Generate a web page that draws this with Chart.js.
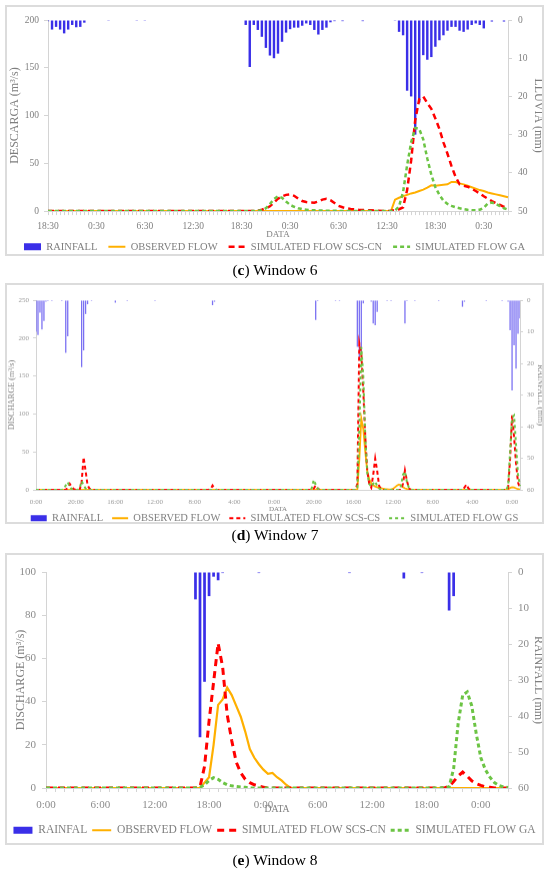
<!DOCTYPE html>
<html>
<head>
<meta charset="utf-8">
<script src="https://cdn.jsdelivr.net/npm/chart.js@4.4.1/dist/chart.umd.min.js"></script>
<style>
  body { margin: 0; background: #fff; width: 550px; height: 871px; position: relative; overflow: hidden; }
  .frame { position: absolute; left: 5px; width: 539px; border: 2px solid #dcdcdc; box-sizing: border-box; }
  .box { position: absolute; left: 7px; width: 535px; }
  .cap { position: absolute; left: 0; width: 550px; text-align: center; font-family: 'Liberation Serif', serif; font-size: 15.5px; line-height: 18px; color: #000; }
</style>
</head>
<body>
<div class="frame" style="top:5px;height:251px"></div>
<div class="box" style="top:7px;height:255px"><canvas id="c1"></canvas></div>
<div class="cap" style="top:261px">(<b>c</b>) Window 6</div>

<div class="frame" style="top:283px;height:241px"></div>
<div class="box" style="top:285px;height:247.5px"><canvas id="c2"></canvas></div>
<div class="cap" style="top:526px">(<b>d</b>) Window 7</div>

<div class="frame" style="top:553px;height:292px"></div>
<div class="box" style="top:555px;height:291px"><canvas id="c3"></canvas></div>
<div class="cap" style="top:851px">(<b>e</b>) Window 8</div>

<script>
// ---- Window 6 (30 min steps from 18:30) ----
var ticks1 = ['18:30', '0:30', '6:30', '12:30', '18:30', '0:30', '6:30', '12:30', '18:30', '0:30'];
var names1 = ['RAINFALL', 'OBSERVED FLOW', 'SIMULATED FLOW SCS-CN', 'SIMULATED FLOW GA'];
var rain1 = [
  0.3, 2.5, 1.8, 2.5, 3.5, 2.5, 1.3, 1.9, 1.8, 0.7, 0, 0,
  0, 0, 0, 0.2, 0, 0, 0, 0, 0, 0, 0.2, 0,
  0.2, 0, 0, 0, 0, 0, 0, 0, 0, 0, 0, 0,
  0, 0, 0, 0, 0, 0, 0, 0, 0, 0, 0, 0,
  0, 1.3, 12.3, 1.3, 2.6, 4.4, 7.3, 9.3, 10, 8.8, 5.7, 3.3,
  2.4, 2, 2, 1.5, 0.9, 1.3, 2.6, 3.8, 2.6, 2, 0.6, 0.3,
  0, 0.3, 0, 0, 0, 0, 0.3, 0, 0, 0, 0, 0,
  0, 0, 0.2, 3.1, 4, 18.5, 20, 30, 21.6, 9.2, 10.4, 9.7,
  7, 5.3, 4, 2.8, 1.8, 1.8, 2.8, 3.1, 2.5, 1.3, 0.9, 1.3,
  2.2, 0, 0.4, 0, 0, 0.4, 0
];
var obs1 = [
  0, 0, 0, 0, 0, 0, 0, 0, 0, 0, 0, 0,
  0, 0, 0, 0, 0, 0, 0, 0, 0, 0, 0, 0,
  0, 0, 0, 0, 0, 0, 0, 0, 0, 0, 0, 0,
  0, 0, 0, 0, 0, 0, 0, 0, 0, 0, 0, 0,
  0, 0, 0, 0, 0, 0, 0, 0, 0, 0, 0, 0,
  0, 0, 0, 0, 0, 0, 0, 0, 0, 0, 0, 0,
  0, 0, 0, 0, 0, 0, 0, 0, 0, 0, 0, 0,
  0, 0, 12, 14, 15.5, 17, 18.5, 19.5, 21, 22.5, 24.5, 27,
  26.5, 27, 27.5, 28, 30.5, 30.5, 29, 28, 26.5, 25, 23.5, 22,
  21, 19.5, 18.5, 17.5, 16.5, 15.5, 14.5
];
var scs1 = [
  0, 0, 0, 0, 0, 0, 0, 0, 0, 0, 0, 0,
  0, 0, 0, 0, 0, 0, 0, 0, 0, 0, 0, 0,
  0, 0, 0, 0, 0, 0, 0, 0, 0, 0, 0, 0,
  0, 0, 0, 0, 0, 0, 0, 0, 0, 0, 0, 0,
  0, 0, 0, 0, 0.3, 1.5, 3, 5, 9, 13, 15.5, 17,
  17.5, 16, 13, 10.5, 9.5, 9, 8.8, 10, 12, 12.8, 11.5, 8.5,
  5.5, 4, 3, 2.3, 1.8, 1.4, 1.1, 1, 0.8, 0.5, 0.3, 0,
  0, 0.3, 1, 2, 4, 22, 53, 95, 117, 120, 113, 107,
  97, 86, 72, 60, 47, 36, 28, 26.5, 25.5, 23.5, 21, 18.5,
  15.5, 13, 10.5, 8.5, 6.5, 4.5, 3
];
var ga1 = [
  0, 0, 0, 0, 0, 0, 0, 0, 0, 0, 0, 0,
  0, 0, 0, 0, 0, 0, 0, 0, 0, 0, 0, 0,
  0, 0, 0, 0, 0, 0, 0, 0, 0, 0, 0, 0,
  0, 0, 0, 0, 0, 0, 0, 0, 0, 0, 0, 0,
  0, 0, 0, 0, 0.3, 1, 3, 7.5, 12.5, 15.5, 14, 10,
  6.5, 4.5, 3, 2, 1.5, 1, 0.8, 0.6, 0.5, 0.4, 0.3, 0.3,
  0.2, 0, 0, 0, 0, 0, 0, 0, 0, 0, 0, 0,
  0, 0, 0.5, 5, 20, 48, 72, 87, 86, 75, 55, 38,
  25, 17, 11, 7.5, 5.5, 4, 3, 2, 1.3, 1, 1, 1.5,
  3.5, 8, 9, 7.5, 5.3, 3, 1.5
];

// ---- Window 7 (hourly from 0:00) ----
var ticks2 = ['0:00', '20:00', '16:00', '12:00', '8:00', '4:00', '0:00', '20:00', '16:00', '12:00', '8:00', '4:00', '0:00'];
var names2 = ['RAINFALL', 'OBSERVED FLOW', 'SIMULATED FLOW SCS-CS', 'SIMULATED FLOW GS'];
var rain2 = [
  10, 11, 4, 9.3, 6.6, 0.5, 0.3, 0, 0.3, 0, 0, 0, 0, 0.3, 0, 16.7, 11.4, 0, 0, 0,
  0, 0, 0, 21.2, 15.9, 4.4, 1.3, 0, 0.3, 0, 0, 0, 0, 0, 0, 0, 0, 0, 0, 0,
  0.8, 0, 0, 0, 0, 0, 0.3, 0, 0, 0, 0, 0, 0, 0, 0, 0, 0, 0, 0, 0,
  0.3, 0, 0, 0, 0, 0, 0, 0, 0, 0, 0, 0, 0, 0, 0, 0, 0, 0, 0, 0,
  0, 0, 0, 0, 0, 0, 0, 0, 0, 1.6, 0.5, 0, 0, 0, 0, 0, 0, 0, 0, 0,
  0, 0, 0, 0, 0, 0, 0, 0, 0, 0, 0, 0, 0, 0, 0, 0, 0, 0, 0, 0,
  0, 0, 0, 0, 0, 0, 0, 0, 0, 0, 0, 0, 0, 0, 0, 0, 0, 0, 0, 0,
  0, 6.3, 0.3, 0, 0, 0, 0, 0, 0, 0, 0, 0.3, 0, 0.3, 0, 0, 0, 0, 0, 0,
  0, 0, 14.8, 18.4, 16.9, 1, 0, 0, 0, 0.5, 7.4, 7.9, 3.7, 0, 0, 0, 0, 0.3, 0, 0.3,
  0, 0, 0, 0, 0, 0, 7.4, 0.3, 0, 0, 0, 0.3, 0, 0, 0, 0, 0, 0, 0, 0,
  0, 0, 0, 0.3, 0, 0, 0, 0, 0, 0, 0, 0, 0, 0, 0, 2.1, 0.5, 0, 0, 0,
  0, 0, 0, 0, 0, 0, 0, 0.3, 0, 0, 0, 0, 0, 0, 0, 0.3, 0, 0, 0.5, 9.5,
  28.6, 14.3, 21.7, 10.6, 5.8
];
var obs2 = [
  0, 0, 0, 0, 0, 0, 0, 0, 0, 0, 0, 0, 0, 0, 0, 0, 0, 0, 0, 0,
  0, 0, 0, 0, 0, 0, 0, 0, 0, 0, 0, 0, 0, 0, 0, 0, 0, 0, 0, 0,
  0, 0, 0, 0, 0, 0, 0, 0, 0, 0, 0, 0, 0, 0, 0, 0, 0, 0, 0, 0,
  0, 0, 0, 0, 0, 0, 0, 0, 0, 0, 0, 0, 0, 0, 0, 0, 0, 0, 0, 0,
  0, 0, 0, 0, 0, 0, 0, 0, 0, 0, 0, 0, 0, 0, 0, 0, 0, 0, 0, 0,
  0, 0, 0, 0, 0, 0, 0, 0, 0, 0, 0, 0, 0, 0, 0, 0, 0, 0, 0, 0,
  0, 0, 0, 0, 0, 0, 0, 0, 0, 0, 0, 0, 0, 0, 0, 0, 0, 0, 0, 0,
  0, 0, 0, 0, 0, 0, 0, 0, 0, 0, 0, 0, 0, 0, 0, 0, 0, 0, 0, 0,
  0, 0, 0.5, 40, 94, 80, 50, 25, 14, 9, 6, 4.5, 3.5, 2.5, 2, 1.5, 1, 0.8, 0.6, 0.5,
  1.5, 3.5, 5.5, 7, 6, 3.5, 2, 1.2, 0.8, 0.5, 0, 0, 0, 0, 0, 0, 0, 0, 0, 0,
  0, 0, 0, 0, 0, 0, 0, 0, 0, 0, 0, 0, 0, 0, 0, 0, 0, 0, 0, 0,
  0, 0, 0, 0, 0, 0, 0, 0, 0, 0, 0, 0, 0, 0, 0, 0, 0, 0, 0.3, 2.5,
  3.5, 3, 2, 1, 0.5
];
var scs2 = [
  0, 0, 0, 0, 0, 0, 0, 0, 0, 0, 0, 0, 0, 0, 0, 0, 3, 8, 4, 1,
  0, 0, 0, 10, 43, 25, 6, 1.5, 0, 0, 0, 0, 0, 0, 0, 0, 0, 0, 0, 0,
  0, 0, 0, 0, 0, 0, 0, 0, 0, 0, 0, 0, 0, 0, 0, 0, 0, 0, 0, 0,
  0, 0, 0, 0, 0, 0, 0, 0, 0, 0, 0, 0, 0, 0, 0, 0, 0, 0, 0, 0,
  0, 0, 0, 0, 0, 0, 0, 0, 1, 5.7, 2, 0, 0, 0, 0, 0, 0, 0, 0, 0,
  0, 0, 0, 0, 0, 0, 0, 0, 0, 0, 0, 0, 0, 0, 0, 0, 0, 0, 0, 0,
  0, 0, 0, 0, 0, 0, 0, 0, 0, 0, 0, 0, 0, 0, 0, 0, 0, 0, 0, 0,
  1.5, 5.7, 2, 0, 0, 0, 0, 0, 0, 0, 0, 0, 0, 0, 0, 0, 0, 0, 0, 0,
  0, 0, 8, 193, 180, 130, 70, 25, 8, 3, 20, 41, 25, 5, 1, 0, 0, 0, 0, 0,
  0, 0, 0, 0, 0, 8, 25.5, 12, 2, 0, 0, 0, 0, 0, 0, 0, 0, 0, 0, 0,
  0, 0, 0, 0, 0, 0, 0, 0, 0, 0, 0, 0, 0, 0, 0, 0, 3, 7, 2, 0,
  0, 0, 0, 0, 0, 0, 0, 0, 0, 0, 0, 0, 0, 0, 0, 0, 0, 0, 2, 40,
  98, 70, 35, 10, 2
];
var ga2 = [
  0, 0, 0, 0, 0, 0, 0, 0, 0, 0, 0, 0, 0, 0, 1, 6, 10, 4, 1, 0,
  0, 0, 2, 11.5, 6, 2, 0, 0, 0, 0, 0, 0, 0, 0, 0, 0, 0, 0, 0, 0,
  0, 0, 0, 0, 0, 0, 0, 0, 0, 0, 0, 0, 0, 0, 0, 0, 0, 0, 0, 0,
  0, 0, 0, 0, 0, 0, 0, 0, 0, 0, 0, 0, 0, 0, 0, 0, 0, 0, 0, 0,
  0, 0, 0, 0, 0, 0, 0, 0, 0, 0, 0, 0, 0, 0, 0, 0, 0, 0, 0, 0,
  0, 0, 0, 0, 0, 0, 0, 0, 0, 0, 0, 0, 0, 0, 0, 0, 0, 0, 0, 0,
  0, 0, 0, 0, 0, 0, 0, 0, 0, 0, 0, 0, 0, 0, 0, 0, 0, 0, 0, 2,
  13, 7, 2, 0, 0, 0, 0, 0, 0, 0, 0, 0, 0, 0, 0, 0, 0, 0, 0, 0,
  0, 0, 3, 80, 188, 150, 70, 22, 8, 4, 8, 11, 5, 2, 0, 0, 0, 0, 0, 0,
  0, 0, 0, 0, 5, 20, 24, 10, 3, 0, 0, 0, 0, 0, 0, 0, 0, 0, 0, 0,
  0, 0, 0, 0, 0, 0, 0, 0, 0, 0, 0, 0, 0, 0, 0, 0, 0, 0, 0, 0,
  0, 0, 0, 0, 0, 0, 0, 0, 0, 0, 0, 0, 0, 0, 0, 0, 0, 0, 5, 50,
  95, 98, 60, 20, 5
];

// ---- Window 8 (30 min steps from 0:00) ----
var ticks3 = ['0:00', '6:00', '12:00', '18:00', '0:00', '6:00', '12:00', '18:00', '0:00'];
var names3 = ['RAINFAL', 'OBSERVED FLOW', 'SIMULATED FLOW SCS-CN', 'SIMULATED FLOW GA'];
var rain3 = [
  0, 0, 0, 0, 0, 0, 0, 0, 0, 0, 0, 0,
  0, 0, 0, 0, 0, 0, 0, 0, 0, 0, 0, 0,
  0, 0, 0, 0, 0, 0, 0, 0, 0, 7.6, 45.9, 30.5,
  6.7, 1.3, 2.3, 0.3, 0, 0, 0, 0, 0, 0, 0, 0.3,
  0, 0, 0, 0, 0, 0, 0, 0, 0, 0, 0, 0,
  0, 0, 0, 0, 0, 0, 0, 0.3, 0, 0, 0, 0,
  0, 0, 0, 0, 0, 0, 0, 1.8, 0, 0, 0, 0.3,
  0, 0, 0, 0, 0, 10.7, 6.7, 0, 0, 0, 0, 0,
  0, 0, 0, 0, 0, 0, 0
];
var obs3 = [
  0, 0, 0, 0, 0, 0, 0, 0, 0, 0, 0, 0,
  0, 0, 0, 0, 0, 0, 0, 0, 0, 0, 0, 0,
  0, 0, 0, 0, 0, 0, 0, 0, 0, 0, 0, 2.5,
  5, 20, 38.5, 41, 46.5, 43, 38, 33, 26, 18, 14, 11,
  8.5, 6.6, 7, 5, 3.5, 1.5, 0, 0, 0, 0, 0, 0,
  0, 0, 0, 0, 0, 0, 0, 0, 0, 0, 0, 0,
  0, 0, 0, 0, 0, 0, 0, 0, 0, 0, 0, 0,
  0, 0, 0, 0, 0, 0, 0, 0, 0, 0, 0, 0,
  0, 0, 0, 0, 0, 0, 0
];
var scs3 = [
  0, 0, 0, 0, 0, 0, 0, 0, 0, 0, 0, 0,
  0, 0, 0, 0, 0, 0, 0, 0, 0, 0, 0, 0,
  0, 0, 0, 0, 0, 0, 0, 0, 0, 0, 0.5, 10,
  31, 49, 67, 56, 34, 22, 12, 7, 4, 2.5, 1.5, 0.8,
  0.4, 0, 0, 0, 0, 0, 0, 0, 0, 0, 0, 0,
  0, 0, 0, 0, 0, 0, 0, 0, 0, 0, 0, 0,
  0, 0, 0, 0, 0, 0, 0, 0, 0, 0, 0, 0,
  0, 0, 0, 0, 0, 0.8, 3, 5.5, 7.4, 5.5, 3.3, 2,
  1.2, 0.6, 0.3, 0, 0, 0, 0
];
var ga3 = [
  0, 0, 0, 0, 0, 0, 0, 0, 0, 0, 0, 0,
  0, 0, 0, 0, 0, 0, 0, 0, 0, 0, 0, 0,
  0, 0, 0, 0, 0, 0, 0, 0, 0, 0, 0.3, 1.5,
  3.5, 4.8, 4, 2.5, 1.5, 1, 0.7, 0.5, 0.3, 0, 0, 0,
  0, 0, 0, 0, 0, 0, 0, 0, 0, 0, 0, 0,
  0, 0, 0, 0, 0, 0, 0, 0, 0, 0, 0, 0,
  0, 0, 0, 0, 0, 0, 0, 0, 0, 0, 0, 0,
  0, 0, 0, 0, 0.3, 0.5, 9, 30, 43, 44.5, 38, 25,
  14, 8.5, 5, 2.5, 1.2, 0.5, 0.2
];

var SERIF = "'Liberation Serif', 'Times New Roman', serif";
var BLUE = '#3a2fe8';
var ORANGE = '#ffb000';
var RED = '#ff0000';
var GREEN = '#6cc444';
var AXIS = '#d4d4d4';

// time strings for the category axis
function timeCats(startMin, stepMin, n) {
  var out = [];
  for (var i = 0; i < n; i++) {
    var m = (startMin + i * stepMin) % 1440;
    out.push(Math.floor(m / 60) + ':' + String(m % 60).padStart(2, '0'));
  }
  return out;
}

function makeChart(id, o) {
  var ctx = document.getElementById(id).getContext('2d');
  return new Chart(ctx, {
    type: 'bar',
    data: {
      labels: o.labels,
      datasets: [{
        label: o.names[0], data: o.rain, yAxisID: 'y1',
        backgroundColor: o.barColor || BLUE, borderWidth: 0,
        categoryPercentage: 1, barPercentage: o.barPct, order: 4
      }, {
        type: 'line', label: o.names[1], data: o.obs, yAxisID: 'y',
        borderColor: ORANGE, backgroundColor: ORANGE, borderWidth: o.lw[0],
        pointRadius: 0, tension: 0, order: 3
      }, {
        type: 'line', label: o.names[2], data: o.scs, yAxisID: 'y',
        borderColor: RED, backgroundColor: RED, borderWidth: o.lw[1], borderDash: o.dashR,
        pointRadius: 0, tension: 0, order: 2
      }, {
        type: 'line', label: o.names[3], data: o.ga, yAxisID: 'y',
        borderColor: GREEN, backgroundColor: GREEN, borderWidth: o.lw[2], borderDash: o.dashG,
        pointRadius: 0, tension: 0, order: 1
      }]
    },
    options: {
      responsive: true,
      maintainAspectRatio: false,
      animation: false,
      layout: { padding: { top: o.top, left: 0, right: 0, bottom: 0 } },
      plugins: {
        tooltip: { enabled: false },
        legend: {
          position: 'bottom',
          labels: {
            usePointStyle: true, pointStyleWidth: o.swatch, boxHeight: o.boxH,
            padding: o.legPad, color: '#7f7f7f',
            font: { family: SERIF, size: o.legSize },
            generateLabels: function (chart) {
              var items = Chart.defaults.plugins.legend.labels.generateLabels(chart);
              items.forEach(function (it) {
                var ds = chart.data.datasets[it.datasetIndex];
                if (it.datasetIndex === 0) {
                  it.pointStyle = 'rect';
                  it.fillStyle = BLUE;
                  it.lineWidth = 0;
                } else {
                  it.pointStyle = 'line';
                  it.strokeStyle = ds.borderColor;
                  it.lineWidth = ds.borderWidth;
                  it.lineDash = ds.borderDash || [];
                }
              });
              return items.sort(function (a, b) { return a.datasetIndex - b.datasetIndex; });
            }
          }
        }
      },
      scales: {
        x: {
          offset: false,
          grid: { offset: false, drawOnChartArea: false, drawTicks: o.xTicks, tickLength: 4, color: o.xTickColor || AXIS },
          border: { display: true, color: AXIS },
          ticks: {
            autoSkip: false, maxRotation: 0, minRotation: 0, padding: o.xPad,
            color: o.tickColor, font: { family: SERIF, size: o.tickSize },
            callback: function (v, i) { return i % o.every === 0 ? o.ticks[i / o.every] : ''; }
          },
          title: { display: true, text: 'DATA', color: '#7f7f7f', font: { family: SERIF, size: o.dataSize }, padding: { top: 0, bottom: o.dataPad } },
          afterFit: function (s) { s.height = o.xH; }
        },
        y: {
          position: 'left', min: 0, max: o.yMax,
          grid: { drawOnChartArea: false, tickLength: o.yTick, color: AXIS },
          border: { display: true, color: AXIS },
          ticks: { stepSize: o.yStep, padding: o.yPad, color: o.tickColor, font: { family: SERIF, size: o.tickSize } },
          title: { display: true, text: o.yTitle, color: '#7f7f7f', font: { family: SERIF, size: o.titleSize }, padding: { top: o.yTitlePad, bottom: 0 } },
          afterFit: function (s) { s.width = o.yW; }
        },
        y1: {
          position: 'right', reverse: true, min: 0, max: o.y1Max,
          grid: { drawOnChartArea: false, tickLength: o.yTick, color: AXIS },
          border: { display: true, color: AXIS },
          ticks: { stepSize: 10, padding: o.y1Pad, color: o.tickColor, font: { family: SERIF, size: o.tickSize } },
          title: { display: true, text: o.y1Title, color: '#7f7f7f', font: { family: SERIF, size: o.titleSize }, padding: { top: o.y1TitlePad, bottom: 0 } },
          afterFit: function (s) { s.width = o.y1W; }
        }
      }
    }
  });
}

makeChart('c1', {
  labels: timeCats(18 * 60 + 30, 30, rain1.length), ticks: ticks1, every: 12, names: names1,
  rain: rain1, obs: obs1, scs: scs1, ga: ga1,
  barPct: 0.6, lw: [2, 2.5, 2.5], dashR: [6, 4], dashG: [4, 3],
  top: 13, yW: 41, y1W: 34, xH: 19.4, yMax: 200, yStep: 50, y1Max: 50,
  yTitle: 'DESCARGA (m\u00B3/s)', y1Title: 'LLUVIA (mm)',
  tickSize: 9.5, tickColor: '#7f7f7f', titleSize: 12, dataSize: 9,
  xTicks: true, xPad: 6, dataPad: -10, yTick: 4, yPad: 5, y1Pad: 6, yTitlePad: 1, y1TitlePad: -3,
  swatch: 17, boxH: 7, legPad: 11, legSize: 10.5
});

makeChart('c2', {
  labels: timeCats(0, 60, rain2.length), ticks: ticks2, every: 20, names: names2,
  rain: rain2, obs: obs2, scs: scs2, ga: ga2,
  barPct: 0.65, barColor: '#7a70f2', lw: [1.8, 2, 2], dashR: [4, 3], dashG: [3, 3],
  top: 15, yW: 29, y1W: 22, xH: 14, yMax: 250, yStep: 50, y1Max: 60,
  yTitle: 'DISCHARGE (m\u00B3/s)', y1Title: 'RAINFALL (mm)',
  tickSize: 7, tickColor: '#9a9a9a', titleSize: 8.3, dataSize: 7,
  xTicks: false, xPad: 8, dataPad: -9.2, yTick: 3, yPad: 4, y1Pad: 4, yTitlePad: 0, y1TitlePad: -3,
  swatch: 16, boxH: 6, legPad: 9, legSize: 10.5
});

makeChart('c3', {
  labels: timeCats(0, 30, rain3.length), ticks: ticks3, every: 12, names: names3,
  rain: rain3, obs: obs3, scs: scs3, ga: ga3,
  barPct: 0.6, lw: [2.2, 3, 3], dashR: [7, 5], dashG: [4, 3],
  top: 17, yW: 39, y1W: 34, xH: 31.5, yMax: 100, yStep: 20, y1Max: 60,
  yTitle: 'DISCHARGE (m\u00B3/s)', y1Title: 'RAINFALL (mm)',
  tickSize: 11, tickColor: '#8c8c8c', titleSize: 12, dataSize: 9.7,
  xTicks: true, xTickColor: function (c) { return c.index % 2 ? 'rgba(0,0,0,0)' : AXIS; },
  xPad: 6.4, dataPad: 4.6, yTick: 4, yPad: 6, y1Pad: 6, yTitlePad: 6.5, y1TitlePad: -3,
  swatch: 19, boxH: 7, legPad: 5, legSize: 11.5
});
</script>
</body>
</html>
